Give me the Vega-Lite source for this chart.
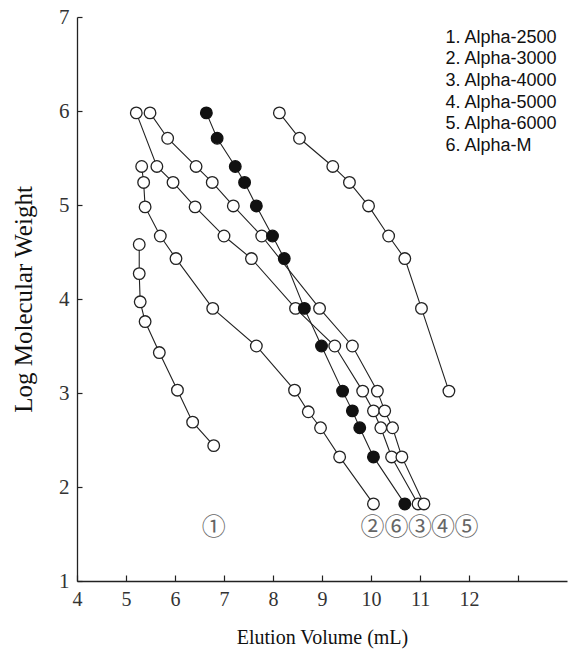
{
  "$schema": "https://vega.github.io/schema/vega-lite/v6.json",
  "width": 490,
  "height": 564,
  "autosize": "none",
  "padding": {"left": 77, "top": 17, "right": 2, "bottom": 70},
  "background": "white",
  "config": {
    "view": {"stroke": null},
    "axis": {
      "grid": false,
      "domainColor": "#222",
      "domainWidth": 1.3,
      "tickColor": "#222",
      "tickWidth": 1.2,
      "labelFont": "Liberation Serif",
      "labelColor": "#333",
      "titleFont": "Liberation Serif",
      "titleFontWeight": "normal",
      "titleColor": "#111"
    }
  },
  "datasets": {
    "points": [
      {"series": "Alpha-2500", "vol": 5.27, "logmw": 4.58},
      {"series": "Alpha-2500", "vol": 5.27, "logmw": 4.27},
      {"series": "Alpha-2500", "vol": 5.29, "logmw": 3.97},
      {"series": "Alpha-2500", "vol": 5.39, "logmw": 3.76},
      {"series": "Alpha-2500", "vol": 5.68, "logmw": 3.43},
      {"series": "Alpha-2500", "vol": 6.05, "logmw": 3.03},
      {"series": "Alpha-2500", "vol": 6.36, "logmw": 2.69},
      {"series": "Alpha-2500", "vol": 6.79, "logmw": 2.44},
      {"series": "Alpha-3000", "vol": 5.32, "logmw": 5.41},
      {"series": "Alpha-3000", "vol": 5.36, "logmw": 5.24},
      {"series": "Alpha-3000", "vol": 5.39, "logmw": 4.98},
      {"series": "Alpha-3000", "vol": 5.7, "logmw": 4.67},
      {"series": "Alpha-3000", "vol": 6.02, "logmw": 4.43},
      {"series": "Alpha-3000", "vol": 6.77, "logmw": 3.9},
      {"series": "Alpha-3000", "vol": 7.66, "logmw": 3.5},
      {"series": "Alpha-3000", "vol": 8.44, "logmw": 3.03},
      {"series": "Alpha-3000", "vol": 8.72, "logmw": 2.8},
      {"series": "Alpha-3000", "vol": 8.97, "logmw": 2.63},
      {"series": "Alpha-3000", "vol": 9.36, "logmw": 2.32},
      {"series": "Alpha-3000", "vol": 10.05, "logmw": 1.82},
      {"series": "Alpha-4000", "vol": 5.21, "logmw": 5.98},
      {"series": "Alpha-4000", "vol": 5.63, "logmw": 5.41},
      {"series": "Alpha-4000", "vol": 5.96, "logmw": 5.24},
      {"series": "Alpha-4000", "vol": 6.41, "logmw": 4.98},
      {"series": "Alpha-4000", "vol": 7.0, "logmw": 4.67},
      {"series": "Alpha-4000", "vol": 7.56, "logmw": 4.43},
      {"series": "Alpha-4000", "vol": 8.46, "logmw": 3.9},
      {"series": "Alpha-4000", "vol": 9.26, "logmw": 3.5},
      {"series": "Alpha-4000", "vol": 9.83, "logmw": 3.02},
      {"series": "Alpha-4000", "vol": 10.05, "logmw": 2.81},
      {"series": "Alpha-4000", "vol": 10.2, "logmw": 2.63},
      {"series": "Alpha-4000", "vol": 10.42, "logmw": 2.32},
      {"series": "Alpha-4000", "vol": 10.96, "logmw": 1.82},
      {"series": "Alpha-5000", "vol": 5.49, "logmw": 5.98},
      {"series": "Alpha-5000", "vol": 5.85, "logmw": 5.71},
      {"series": "Alpha-5000", "vol": 6.43, "logmw": 5.41},
      {"series": "Alpha-5000", "vol": 6.76, "logmw": 5.24},
      {"series": "Alpha-5000", "vol": 7.19, "logmw": 4.99},
      {"series": "Alpha-5000", "vol": 7.77, "logmw": 4.67},
      {"series": "Alpha-5000", "vol": 8.95, "logmw": 3.9},
      {"series": "Alpha-5000", "vol": 9.62, "logmw": 3.5},
      {"series": "Alpha-5000", "vol": 10.13, "logmw": 3.02},
      {"series": "Alpha-5000", "vol": 10.28, "logmw": 2.81},
      {"series": "Alpha-5000", "vol": 10.44, "logmw": 2.63},
      {"series": "Alpha-5000", "vol": 10.63, "logmw": 2.32},
      {"series": "Alpha-5000", "vol": 11.08, "logmw": 1.82},
      {"series": "Alpha-6000", "vol": 8.13, "logmw": 5.98},
      {"series": "Alpha-6000", "vol": 8.54, "logmw": 5.71},
      {"series": "Alpha-6000", "vol": 9.22, "logmw": 5.41},
      {"series": "Alpha-6000", "vol": 9.56, "logmw": 5.24},
      {"series": "Alpha-6000", "vol": 9.95, "logmw": 4.99},
      {"series": "Alpha-6000", "vol": 10.36, "logmw": 4.67},
      {"series": "Alpha-6000", "vol": 10.69, "logmw": 4.43},
      {"series": "Alpha-6000", "vol": 11.03, "logmw": 3.9},
      {"series": "Alpha-6000", "vol": 11.59, "logmw": 3.02},
      {"series": "Alpha-M", "vol": 6.64, "logmw": 5.98},
      {"series": "Alpha-M", "vol": 6.86, "logmw": 5.71},
      {"series": "Alpha-M", "vol": 7.23, "logmw": 5.41},
      {"series": "Alpha-M", "vol": 7.42, "logmw": 5.24},
      {"series": "Alpha-M", "vol": 7.66, "logmw": 4.99},
      {"series": "Alpha-M", "vol": 7.99, "logmw": 4.67},
      {"series": "Alpha-M", "vol": 8.23, "logmw": 4.43},
      {"series": "Alpha-M", "vol": 8.64, "logmw": 3.9},
      {"series": "Alpha-M", "vol": 8.99, "logmw": 3.5},
      {"series": "Alpha-M", "vol": 9.42, "logmw": 3.02},
      {"series": "Alpha-M", "vol": 9.62, "logmw": 2.81},
      {"series": "Alpha-M", "vol": 9.77, "logmw": 2.63},
      {"series": "Alpha-M", "vol": 10.05, "logmw": 2.32},
      {"series": "Alpha-M", "vol": 10.69, "logmw": 1.82}
    ],
    "tags": [
      {"tag": "①", "vol": 6.79, "logmw": 1.56},
      {"tag": "②", "vol": 10.03, "logmw": 1.56},
      {"tag": "⑥", "vol": 10.52, "logmw": 1.56},
      {"tag": "③", "vol": 11.0, "logmw": 1.56},
      {"tag": "④", "vol": 11.47, "logmw": 1.56},
      {"tag": "⑤", "vol": 11.95, "logmw": 1.56}
    ],
    "legendrows": [
      {"text": "1. Alpha-2500", "vol": 11.52, "logmw": 6.78},
      {"text": "2. Alpha-3000", "vol": 11.52, "logmw": 6.55},
      {"text": "3. Alpha-4000", "vol": 11.52, "logmw": 6.32},
      {"text": "4. Alpha-5000", "vol": 11.52, "logmw": 6.09},
      {"text": "5. Alpha-6000", "vol": 11.52, "logmw": 5.86},
      {"text": "6. Alpha-M", "vol": 11.52, "logmw": 5.63}
    ]
  },
  "encoding": {
    "x": {
      "field": "vol",
      "type": "quantitative",
      "scale": {"domain": [4, 14], "nice": false},
      "axis": {
        "title": "Elution Volume (mL)",
        "titleFont": "Liberation Serif",
        "titleFontSize": 20,
        "titlePadding": 18,
        "values": [4, 5, 6, 7, 8, 9, 10, 11, 12, 13],
        "labelExpr": "datum.value == 13 ? '' : datum.label",
        "labelFont": "Liberation Serif",
        "labelFontSize": 20,
        "tickSize": -6,
        "labelPadding": 14,
        "labelFlush": false
      }
    },
    "y": {
      "field": "logmw",
      "type": "quantitative",
      "scale": {"domain": [1, 7], "nice": false},
      "axis": {
        "title": "Log Molecular Weight",
        "titleFont": "Liberation Serif",
        "titleFontSize": 25,
        "titlePadding": 22,
        "values": [1, 2, 3, 4, 5, 6, 7],
        "labelFont": "Liberation Serif",
        "labelFontSize": 21,
        "tickSize": -5,
        "labelPadding": 13
      }
    }
  },
  "layer": [
    {
      "mark": {"type": "rule", "color": "#222", "strokeWidth": 1.3},
      "encoding": {"x": null, "y": {"datum": 7, "type": "quantitative"}}
    },
    {
      "data": {"name": "points"},
      "mark": {"type": "line", "color": "#222", "strokeWidth": 1.1},
      "encoding": {
        "detail": {"field": "series", "type": "nominal"},
        "order": {"field": "logmw", "sort": "descending"}
      }
    },
    {
      "data": {"name": "points"},
      "transform": [{"filter": "datum.series != 'Alpha-M'"}],
      "mark": {"type": "point", "shape": "circle", "size": 135, "filled": true, "fill": "white", "stroke": "#222", "strokeWidth": 1.3, "opacity": 1}
    },
    {
      "data": {"name": "points"},
      "transform": [{"filter": "datum.series == 'Alpha-M'"}],
      "mark": {"type": "point", "shape": "circle", "size": 135, "filled": true, "fill": "#111", "stroke": "#111", "strokeWidth": 1.3, "opacity": 1}
    },
    {
      "data": {"name": "tags"},
      "mark": {"type": "text", "font": "Noto Sans CJK JP", "fontSize": 24, "color": "#666", "baseline": "middle", "align": "center"},
      "encoding": {"text": {"field": "tag"}}
    },
    {
      "data": {"name": "legendrows"},
      "mark": {"type": "text", "font": "Liberation Sans", "fontSize": 18, "color": "#111", "baseline": "middle", "align": "left"},
      "encoding": {"text": {"field": "text"}}
    }
  ]
}
